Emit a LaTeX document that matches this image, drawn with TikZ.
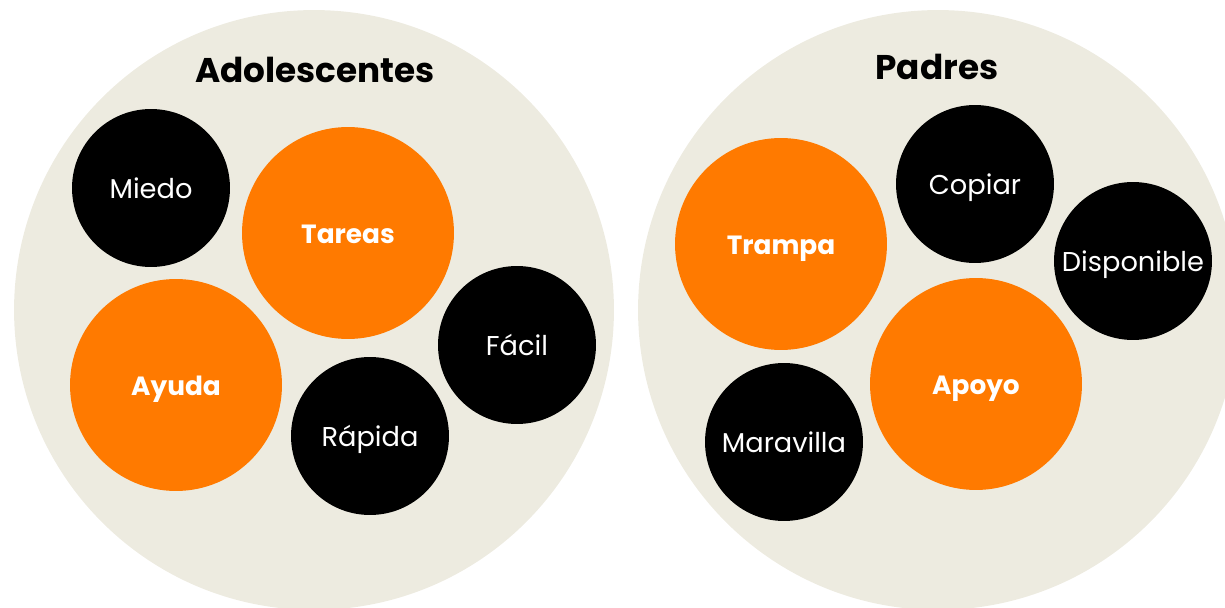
\documentclass[tikz,border=0pt]{standalone}
\usepackage{fontspec}
\setmainfont{Poppins}
\usetikzlibrary{positioning}
\definecolor{beige}{HTML}{EDEBE0}
\definecolor{naranja}{HTML}{FF7A00}

\begin{document}
\begin{tikzpicture}[x=0.02cm,y=-0.02cm,
	grupo/.style={circle,fill=beige,minimum size=12cm,inner sep=0pt},
	titulo/.style={font=\fontsize{19.5}{22}\selectfont\bfseries},
	negro/.style={circle,fill=black,text=white,minimum size=3.16cm,inner sep=0pt,
		text height=0.42cm,text depth=0pt,font=\fontsize{15.5}{18}\selectfont},
	naranjo/.style={circle,fill=naranja,text=white,minimum size=4.24cm,inner sep=0pt,
		text height=0.42cm,text depth=0pt,font=\fontsize{15}{18}\selectfont\bfseries}]
	\useasboundingbox (0,0) rectangle (1225,608);
	\clip (0,0) rectangle (1225,608);
	% grupos
	\node[grupo] (adol) at (314,310) {};
	\node[grupo] (padr) at (938,310) {};
	\node[titulo] (tadol) at (315,70) {Adolescentes};
	\node[titulo] (tpadr) at (937,67) {Padres};
	% adolescentes
	\node[negro] (miedo) at (151,188) {Miedo};
	\node[naranjo] (tareas) at (348,233) {Tareas};
	\node[naranjo] (ayuda) at (176,385) {Ayuda};
	\node[negro] (facil) at (517,345) {Fácil};
	\node[negro] (rapida) at (370,436) {Rápida};
	% padres
	\node[naranjo] (trampa) at (781,244) {Trampa};
	\node[negro] (copiar) at (975,184) {Copiar};
	\node[negro] (dispo) at (1133,261) {Disponible};
	\node[naranjo] (apoyo) at (976,384) {Apoyo};
	\node[negro] (maravilla) at (784,442) {Maravilla};
\end{tikzpicture}
\end{document}
